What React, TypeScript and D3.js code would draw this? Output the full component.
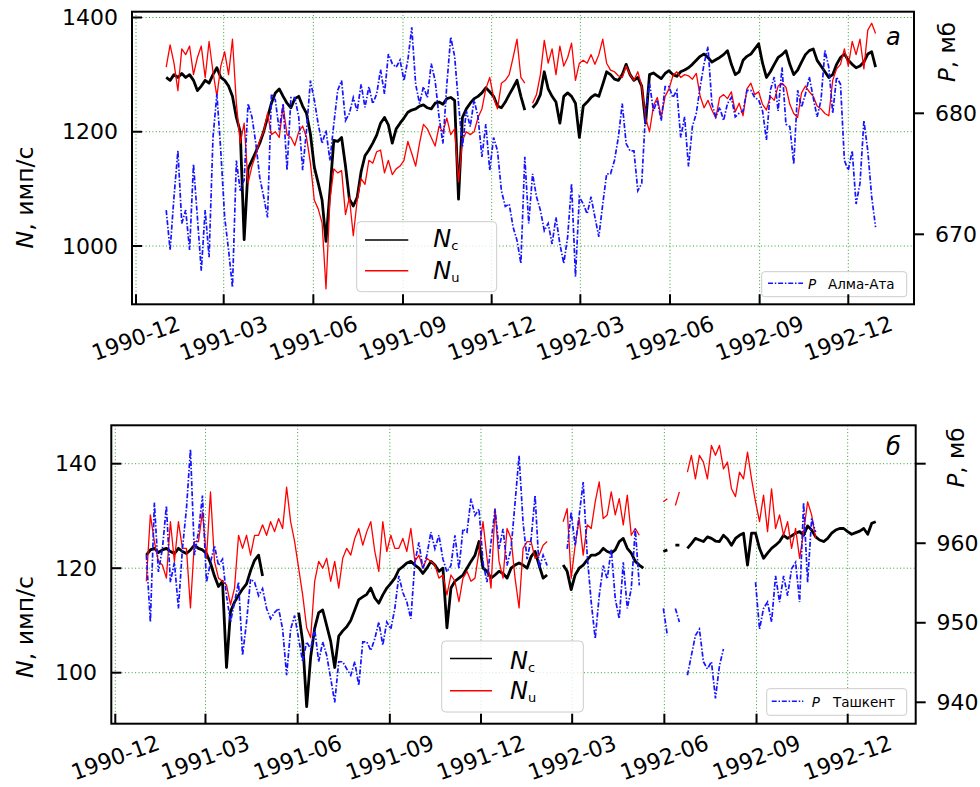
import React from "react";
import * as d3 from "d3";

// Series sampled every 4 days starting 1991-01-01 (null = no data)
const START_UTC = Date.UTC(1991, 0, 1);
const STEP_DAYS = 4;

const xTickLabels = ["1990-12", "1991-03", "1991-06", "1991-09", "1991-12", "1992-03", "1992-06", "1992-09", "1992-12"];

const ncAlmaAta: (number | null)[] = [
  1295, 1290, 1300, 1295, 1302, 1295, 1300, 1290, 1272, 1280,
  1290, 1285, 1300, 1312, 1295, 1290, 1280, 1262, 1225, 1200,
  1011, 1135, 1150, 1165, 1180, 1200, 1225, 1250, 1268, 1275,
  1262, 1250, 1242, 1258, 1262, 1245, 1232, 1196, 1138, 1110,
  1080, 1008, 1095, 1185, 1183, 1190, 1140, 1082, 1070, 1085,
  1130, 1158, 1168, 1180, 1194, 1215, 1225, 1212, 1180, 1205,
  1215, 1224, 1234, 1238, 1240, 1245, 1247, 1242, 1240, 1250,
  1252, 1248, 1258, 1260, 1255, 1082, 1225, 1240, 1250, 1258,
  1262, 1268, 1277, 1270, 1262, 1245, 1242, 1252, 1265, 1277,
  1290, 1262, 1238, null, 1242, 1250, 1265, 1305, 1275, 1262,
  1252, 1215, 1262, 1268, 1262, 1250, 1190, 1245, 1252, 1260,
  1265, 1262, 1283, 1305, 1300, 1292, 1290, 1300, 1318, 1300,
  1290, 1295, 1280, 1215, 1300, 1303, 1298, 1293, 1302, 1307,
  1300, 1297, 1305, 1308, 1312, 1318, 1325, 1332, 1336, 1330,
  1322, 1326, 1330, 1335, 1342, 1318, 1300, 1305, 1325, 1332,
  1336, 1345, 1354, 1320, 1295, 1305, 1318, 1330, 1335, 1342,
  1318, 1300, 1308, 1322, 1335, 1342, 1345, 1325, 1315, 1305,
  1295, 1300, 1318, 1330, 1336, 1325, 1318, 1312, 1315, 1322,
  1336, 1340, 1313,
];

const nuAlmaAta: (number | null)[] = [
  1313, 1352, 1320, 1272, 1345, 1335, 1350, 1300, 1330, 1350,
  1295, 1358, 1305, 1262, 1315, 1340, 1300, 1362, 1250, 1180,
  1215, 1110, 1140, 1160, 1185, 1200, 1232, 1195, 1200, 1190,
  1245, 1195, 1190, 1176, 1200, 1210, 1190, 1145, 1080, 1065,
  1040, 925, 1080, 1135, 1128, 1132, 1055, 1085, 1018, 1080,
  1118, 1108, 1150, 1145, 1165, 1168, 1128, 1150, 1125, 1135,
  1140, 1150, 1183, 1162, 1140, 1180, 1213, 1205, 1190, 1175,
  1210, 1200, 1224, 1195, 1205, 1112, 1185, 1200, 1195, 1200,
  1225, 1240, 1275, 1295, 1260, 1240, 1285, 1290, 1300, 1330,
  1362, 1295, 1285, null, 1250, 1265, 1300, 1360, 1320, 1345,
  1300, 1350, 1315, 1330, 1355, 1290, 1320, 1325, 1320, 1335,
  1318, 1335, 1362, 1320, 1308, 1305, 1298, 1295, 1315, 1300,
  1290, 1305, 1280, 1224, 1200, 1245, 1260, 1225, 1262, 1275,
  1298, 1305, 1295, 1300, 1298, 1292, 1302, 1262, 1242, 1255,
  1238, 1224, 1260, 1265, 1258, 1270, 1235, 1250, 1228, 1275,
  1285, 1265, 1270, 1248, 1238, 1262, 1255, 1280, 1285, 1278,
  1248, 1232, 1225, 1268, 1280, 1270, 1262, 1245, 1240, 1232,
  1228, 1290, 1310, 1318, 1345, 1315, 1358, 1335, 1362, 1310,
  1378, 1390, 1372,
];

const pAlmaAta: (number | null)[] = [
  672.0, 668.7, 673.1, 676.9, 670.9, 672.0, 668.7, 675.8, 671.4, 667.0,
  672.0, 668.1, 678.0, 681.6, 676.9, 671.4, 668.7, 665.6, 676.1, 673.6,
  674.5, 680.8, 679.7, 677.5, 674.7, 673.1, 671.4, 681.6, 681.1, 678.6,
  680.8, 675.3, 681.3, 681.3, 679.7, 675.3, 678.6, 682.7, 681.1, 679.1,
  677.5, 678.6, 676.1, 679.1, 681.9, 682.7, 679.4, 680.0, 681.3, 680.2,
  682.4, 680.5, 682.2, 680.8, 681.6, 683.6, 681.6, 684.9, 684.1, 683.8,
  684.4, 682.7, 684.4, 687.1, 682.4, 680.8, 682.2, 681.3, 684.1, 682.7,
  679.7, 677.5, 682.4, 686.3, 684.7, 680.8, 677.2, 680.2, 678.9, 681.1,
  679.7, 676.4, 679.1, 675.3, 678.0, 676.9, 673.6, 672.3, 672.5, 670.6,
  669.5, 667.6, 676.4, 670.9, 675.0, 673.1, 672.0, 670.3, 670.9, 669.2,
  671.4, 669.2, 667.6, 669.8, 674.2, 666.5, 673.1, 672.5, 671.7, 673.1,
  671.4, 669.8, 672.5, 675.0, 675.0, 676.1, 678.0, 680.8, 677.5, 676.9,
  676.9, 673.6, 674.2, 680.2, 682.5, 680.2, 681.1, 679.4, 682.2, 682.2,
  681.3, 681.9, 678.0, 679.7, 675.6, 678.9, 680.0, 682.2, 684.1, 685.5,
  680.8, 679.7, 680.5, 679.4, 680.8, 681.3, 679.7, 680.0, 680.2, 681.9,
  681.9, 681.3, 681.1, 680.2, 677.8, 681.9, 683.0, 680.2, 683.8, 679.1,
  678.9, 675.8, 681.9, 680.5, 681.6, 683.0, 681.3, 679.7, 681.1, 685.2,
  683.8, 680.0, 683.0, 682.4, 676.1, 675.3, 676.9, 672.5, 674.2, 679.4,
  676.9, 673.1, 670.6,
];

const ncTashkent: (number | null)[] = [
  122.5, 123.5, 123.8, 123.0, 123.5, 123.8, 123.2, 122.8, 123.8, 123.2,
  122.8, 123.5, 124.4, 123.8, 123.5, 122.8, 121.0, 118.5, 116.5, 117.5,
  101.0, 111.7, 113.5, 114.8, 116.0, 117.0, 119.5, 121.5, 122.5, 118.5,
  null, null, null, null, null, null, null, null, 111.5, 106.0,
  93.5, 103.0, 108.5, 111.5, 112.0, 109.0, 106.0, 101.0, 107.0, 108.0,
  108.8, 110.0, 112.0, 114.0, 114.5, 115.0, 116.2, 114.3, 113.3, 114.9,
  116.2, 117.1, 118.1, 119.7, 120.3, 121.0, 121.3, 120.6, 120.0, 119.0,
  120.0, 121.3, 120.6, 119.4, 120.0, 108.6, 116.2, 117.5, 118.1, 118.7,
  120.0, 121.3, 122.5, 125.1, 120.0, 119.4, 118.1, 118.7, 119.4, 119.0,
  118.1, 120.0, 120.6, 121.0, 120.6, 120.0, 122.2, 123.2, 120.6, 118.1,
  118.7, null, null, null, 120.6, 119.4, 115.9, 118.7, 120.0, 120.6,
  121.6, 122.5, 122.5, 122.9, 123.8, 123.2, 122.9, 123.5, 125.1, 125.7,
  123.8, 122.9, 121.3, 120.6, 120.0, null, null, null, null, 123.2,
  123.5, null, 124.4, 124.4, null, 123.8, 124.7, 125.7, 125.4, 125.1,
  126.0, 125.7, 125.2, 125.1, 126.3, 125.6, 124.4, 125.7, 126.3, 126.7,
  120.6, 126.7, 126.7, 123.8, 121.9, 122.9, 123.8, 124.4, 125.1, 126.3,
  125.7, 126.2, 126.7, 127.0, 126.3, 128.1, 127.3, 126.0, 125.4, 125.1,
  125.7, 126.7, 127.3, 127.6, 127.6, 127.0, 126.5, 126.8, 127.1, 127.6,
  126.5, 128.6, 128.9,
];

const nuTashkent: (number | null)[] = [
  117.5, 130.2, 125.1, 121.3, 120.6, 118.1, 128.9, 121.3, 128.9, 123.8,
  123.8, 112.4, 125.1, 125.1, 130.8, 121.9, 134.6, 121.3, 118.1, 117.5,
  116.8, 113.0, 116.2, 126.3, 123.8, 126.3, 122.5, 126.3, 126.3, 128.3,
  126.3, 128.9, 127.0, 129.5, 127.6, 135.5, 128.9, 125.1, 120.0, 114.9,
  108.6, 106.7, 117.5, 121.3, 120.0, 121.9, 117.5, 121.3, 116.2, 121.9,
  123.8, 122.5, 125.7, 127.6, 124.4, 127.0, 128.9, 123.2, 119.4, 128.9,
  123.2, 126.3, 123.8, 123.8, 125.7, 123.2, 127.6, 121.3, 122.5, 120.0,
  121.9, 121.3, 120.6, 118.1, 118.7, 114.9, 118.7, 117.5, 113.6, 118.1,
  119.4, 117.5, 118.1, 123.2, 128.9, 121.9, 116.2, 131.4, 121.3, 118.1,
  127.6, 125.7, 118.1, 112.4, 123.8, 125.1, 125.1, 121.9, 122.5, 124.4,
  125.1, null, null, null, 128.9, 131.4, 118.1, 124.4, 129.5, 122.5,
  128.3, 127.6, 132.7, 136.5, 129.5, 130.2, 134.6, 130.2, 133.3, 128.3,
  134.0, 126.3, 127.6, 126.3, null, null, null, null, null, 132.7,
  133.3, null, 132.0, 134.6, null, 138.4, 141.6, 137.1, 141.6, 140.3,
  137.1, 143.5, 141.6, 143.5, 139.0, 140.3, 135.2, 133.7, 138.4, 137.1,
  142.2, 137.1, 132.7, 128.9, 134.0, 127.0, 135.2, 127.6, 130.2, 126.3,
  128.9, 123.8, 127.6, 121.9, 127.0, 132.7, 130.2, 125.7, null, null,
  null, null, null, null, null, null, null, null, null, null,
  null, null, null,
];

const pTashkent: (number | null)[] = [
  958.5, 950.1, 965.1, 956.4, 959.3, 964.7, 955.1, 957.6, 951.8, 959.3,
  964.3, 971.8, 958.5, 961.4, 966.0, 955.1, 957.6, 959.7, 957.2, 958.0,
  953.4, 950.1, 952.6, 955.1, 945.9, 950.1, 955.5, 955.1, 953.4, 954.3,
  951.8, 950.5, 951.3, 951.8, 949.2, 943.4, 949.2, 950.9, 948.0, 945.1,
  947.6, 946.7, 949.2, 945.1, 947.6, 945.9, 943.0, 940.0, 945.1, 945.1,
  944.2, 943.4, 945.1, 942.1, 947.6, 947.6, 946.5, 948.0, 950.1, 947.2,
  950.1, 949.2, 951.8, 955.9, 953.8, 952.6, 950.5, 957.6, 960.1, 956.8,
  958.5, 961.4, 959.3, 961.0, 958.0, 956.4, 957.2, 961.0, 956.8, 961.8,
  961.4, 965.6, 963.5, 964.3, 957.6, 955.1, 960.1, 964.3, 959.3, 961.8,
  957.2, 959.3, 965.1, 971.0, 962.6, 958.0, 960.5, 966.0, 956.8, 958.5,
  957.2, null, null, null, null, 959.3, 963.9, 959.7, 963.5, 967.7,
  958.5, 952.6, 948.0, 953.4, 957.2, 955.5, 959.3, 953.0, 950.5, 957.6,
  951.8, 954.3, 961.8, 954.7, null, null, null, null, null, 951.8,
  948.4, null, 951.8, 950.1, null, 943.4, 945.9, 948.4, 949.2, 945.1,
  944.2, 945.1, 940.5, 944.6, 946.7, null, null, null, null, null,
  null, null, 955.1, 949.2, 951.8, 952.6, 950.1, 955.9, 952.6, 955.9,
  953.4, 956.8, 957.6, 952.6, 965.1, 955.1, 963.1, 961.4, null, null,
  null, null, null, null, null, null, null, null, null, null,
  null, null, null,
];

const leftTicksA = [1000, 1200, 1400];
const rightTicksA = [670, 680];
const rightLabelsA = [670, 680];
const leftTicksB = [100, 120, 140];
const rightTicksB = [940, 950, 960, 970];
const rightLabelsB = [940, 950, 960];

const FONT = "'DejaVu Sans', 'Liberation Sans', sans-serif";
const GRID = "#2f9f2f";
const BLUE = "#1414ff";

type Series = (number | null)[];

type PanelProps = {
  id: string;
  L: number; R: number; T: number; B: number;
  xRange: [number, number];
  leftDomain: [number, number]; leftRange: [number, number];
  rightDomain: [number, number]; rightRange: [number, number];
  leftTicks: number[]; rightTicks: number[]; rightLabels: number[];
  leftLabelX: number; rightLabelX: number;
  nc: Series; nu: Series; p: Series;
  yLabelPos: [number, number]; pLabelPos: [number, number];
  letter: string; letterPos: [number, number];
  nBox: [number, number, number, number]; nLineX: [number, number]; nLineY: [number, number];
  nTextX: number; nTextY: [number, number];
  pBox: [number, number, number, number]; pLineX: [number, number]; pLineY: number;
  pTextX: number; pNameX: number; pTextY: number; station: string;
};

function Panel(props: PanelProps) {
  const { L, R, T, B } = props;
  const x = d3.scaleUtc().domain([new Date(Date.UTC(1990, 11, 1)), new Date(Date.UTC(1992, 11, 1))]).range(props.xRange);
  const yL = d3.scaleLinear().domain(props.leftDomain).range(props.leftRange);
  const yR = d3.scaleLinear().domain(props.rightDomain).range(props.rightRange);
  const xAt = (i: number) => x(new Date(START_UTC + i * STEP_DAYS * 86400000));
  const mk = (y: d3.ScaleLinear<number, number>) =>
    d3.line<number | null>()
      .defined((v) => v !== null)
      .x((_, i) => xAt(i))
      .y((v) => y(v as number));
  const tickDates = xTickLabels.map((s) => {
    const [yy, mm] = s.split("-").map(Number);
    return new Date(Date.UTC(yy, mm - 1, 1));
  });
  const clip = `clip-${props.id}`;
  return (
    <g>
      <defs>
        <clipPath id={clip}>
          <rect x={L} y={T} width={R - L} height={B - T} />
        </clipPath>
      </defs>
      <g clipPath={`url(#${clip})`}>
        {tickDates.map((d, k) => (
          <line key={"gx" + k} x1={x(d)} x2={x(d)} y1={T} y2={B} stroke={GRID} strokeWidth={1} strokeDasharray="1 2.4" />
        ))}
        {props.leftTicks.map((v, k) => (
          <line key={"gy" + k} x1={L} x2={R} y1={yL(v)} y2={yL(v)} stroke={GRID} strokeWidth={1} strokeDasharray="1 2.4" />
        ))}
        <path d={mk(yL)(props.nc) || ""} fill="none" stroke="#000" strokeWidth={2.8} strokeLinejoin="round" />
        <path d={mk(yL)(props.nu) || ""} fill="none" stroke="#ff0000" strokeWidth={1.3} strokeLinejoin="round" />
      </g>
      {/* N legend */}
      <rect x={props.nBox[0]} y={props.nBox[1]} width={props.nBox[2]} height={props.nBox[3]} rx={4}
        fill="#fff" fillOpacity={0.8} stroke="#cccccc" strokeWidth={1} />
      <line x1={props.nLineX[0]} x2={props.nLineX[1]} y1={props.nLineY[0]} y2={props.nLineY[0]} stroke="#000" strokeWidth={1.5} />
      <line x1={props.nLineX[0]} x2={props.nLineX[1]} y1={props.nLineY[1]} y2={props.nLineY[1]} stroke="#ff0000" strokeWidth={1.5} />
      <text x={props.nTextX} y={props.nTextY[0]} fontFamily={FONT} fontSize={24}>
        <tspan fontStyle="italic">N</tspan>
        <tspan fontSize={13} dy={3}>c</tspan>
      </text>
      <text x={props.nTextX} y={props.nTextY[1]} fontFamily={FONT} fontSize={24}>
        <tspan fontStyle="italic">N</tspan>
        <tspan fontSize={13} dy={3}>u</tspan>
      </text>
      {/* pressure (twin axis) */}
      <g clipPath={`url(#${clip})`}>
        <path d={mk(yR)(props.p) || ""} fill="none" stroke={BLUE} strokeWidth={1.7} strokeDasharray="5 1.8 1.5 1.8" />
      </g>
      {/* P legend */}
      <rect x={props.pBox[0]} y={props.pBox[1]} width={props.pBox[2]} height={props.pBox[3]} rx={3}
        fill="#fff" fillOpacity={0.8} stroke="#cccccc" strokeWidth={1} />
      <line x1={props.pLineX[0]} x2={props.pLineX[1]} y1={props.pLineY} y2={props.pLineY} stroke={BLUE} strokeWidth={1.5} strokeDasharray="5 1.8 1.5 1.8" />
      <text x={props.pTextX} y={props.pTextY} fontFamily={FONT} fontSize={13.5} fontStyle="italic">P</text>
      <text x={props.pNameX} y={props.pTextY} fontFamily={FONT} fontSize={13.5}>{props.station}</text>
      {/* ticks */}
      {props.leftTicks.map((v, k) => (
        <g key={"lt" + k}>
          <line x1={L} x2={L + 10} y1={yL(v)} y2={yL(v)} stroke="#000" strokeWidth={2} />
          <text x={props.leftLabelX} y={yL(v)} textAnchor="end" dominantBaseline="central" fontFamily={FONT} fontSize={22}>{v}</text>
        </g>
      ))}
      {props.rightTicks.map((v, k) => (
        <line key={"rt" + k} x1={R} x2={R + 10} y1={yR(v)} y2={yR(v)} stroke="#000" strokeWidth={2} />
      ))}
      {props.rightLabels.map((v, k) => (
        <text key={"rl" + k} x={props.rightLabelX} y={yR(v)} dominantBaseline="central" fontFamily={FONT} fontSize={22}>{v}</text>
      ))}
      {tickDates.map((d, k) => (
        <g key={"xt" + k}>
          <line x1={x(d)} x2={x(d)} y1={B} y2={B - 10} stroke="#000" strokeWidth={2} />
          <text x={x(d)} y={B + 34} textAnchor="middle" dominantBaseline="central" fontFamily={FONT} fontSize={22}
            transform={`rotate(-20 ${x(d)} ${B + 34})`}>{xTickLabels[k]}</text>
        </g>
      ))}
      {/* frame */}
      <rect x={L} y={T} width={R - L} height={B - T} fill="none" stroke="#000" strokeWidth={2} />
      {/* axis titles */}
      <text x={props.yLabelPos[0]} y={props.yLabelPos[1]} textAnchor="middle" fontFamily={FONT} fontSize={23.5}
        transform={`rotate(-90 ${props.yLabelPos[0]} ${props.yLabelPos[1]})`}>
        <tspan fontStyle="italic">N</tspan>, имп/с
      </text>
      <text x={props.pLabelPos[0]} y={props.pLabelPos[1]} textAnchor="middle" fontFamily={FONT} fontSize={23}
        transform={`rotate(-90 ${props.pLabelPos[0]} ${props.pLabelPos[1]})`}>
        <tspan fontStyle="italic">P</tspan>, мб
      </text>
      <text x={props.letterPos[0]} y={props.letterPos[1]} fontFamily={FONT} fontSize={24} fontStyle="italic">{props.letter}</text>
    </g>
  );
}

export default function App() {
  return (
    <div style={{ position: "absolute", left: 0, top: 0, width: 980, height: 787, background: "#fff" }}>
      <svg width={980} height={787} viewBox="0 0 980 787" style={{ display: "block" }}>
        <rect x={0} y={0} width={980} height={787} fill="#fff" />
        <Panel
          id="a" L={132} R={914} T={11.7} B={304.3}
          xRange={[136, 848.3]}
          leftDomain={[1000, 1400]} leftRange={[246, 17.5]}
          rightDomain={[670, 680]} rightRange={[234.3, 113.3]}
          leftTicks={leftTicksA} rightTicks={rightTicksA} rightLabels={rightLabelsA}
          leftLabelX={118} rightLabelX={935}
          nc={ncAlmaAta} nu={nuAlmaAta} p={pAlmaAta}
          yLabelPos={[33, 197.5]} pLabelPos={[955, 52]}
          letter="а" letterPos={[886, 45]}
          nBox={[356.7, 221.7, 140, 70]} nLineX={[365, 408.3]} nLineY={[240, 270.7]}
          nTextX={433.3} nTextY={[247.3, 279.3]}
          pBox={[761.7, 271.7, 145, 25]} pLineX={[768, 803]} pLineY={283.3}
          pTextX={808} pNameX={828} pTextY={288.5} station="Алма-Ата"
        />
        <Panel
          id="b" L={111.3} R={915.7} T={425.3} B={723.7}
          xRange={[115.3, 847.7]}
          leftDomain={[100, 140]} leftRange={[672.7, 463.7]}
          rightDomain={[940, 970]} rightRange={[702.3, 463.7]}
          leftTicks={leftTicksB} rightTicks={rightTicksB} rightLabels={rightLabelsB}
          leftLabelX={97} rightLabelX={936.5}
          nc={ncTashkent} nu={nuTashkent} p={pTashkent}
          yLabelPos={[33, 627]} pLabelPos={[964, 457.5]}
          letter="б" letterPos={[886, 455]}
          nBox={[441.7, 641, 141.6, 71]} nLineX={[450, 492]} nLineY={[658.5, 690.8]}
          nTextX={510} nTextY={[668.8, 699]}
          pBox={[766.7, 688.7, 140, 26.6]} pLineX={[771.7, 803.3]} pLineY={701.3}
          pTextX={811.7} pNameX={833} pTextY={706.5} station="Ташкент"
        />
      </svg>
    </div>
  );
}
